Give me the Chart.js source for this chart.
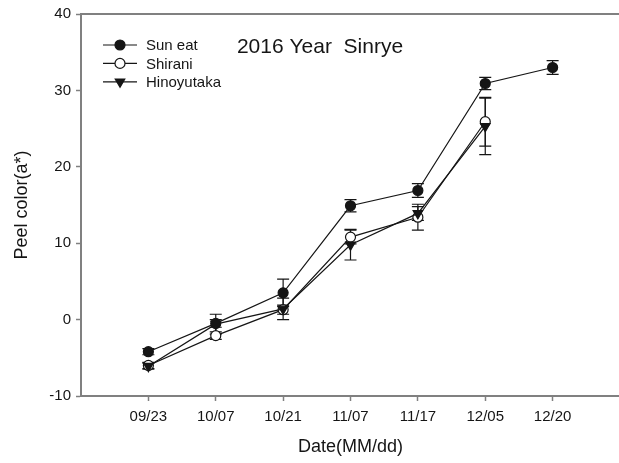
<!DOCTYPE html>
<html>
<head>
<meta charset="utf-8">
<title>Peel color (a*) 2016 Sinrye</title>
<script src="https://cdn.jsdelivr.net/npm/chart.js@4/dist/chart.umd.min.js"></script>
<style>
  html, body { margin: 0; padding: 0; background: #fff; }
  #wrap { width: 619px; height: 463px; overflow: hidden; position: relative; }
  canvas { display: block; }
</style>
</head>
<body>
<div id="wrap"><canvas id="c" width="640" height="463"></canvas></div>
<script>
// Sampling dates (MM/dd)
const dates = ['09/23', '10/07', '10/21', '11/07', '11/17', '12/05', '12/20'];

// Peel colour a* means per cultivar
const seriesNames = ['Sun eat', 'Shirani', 'Hinoyutaka'];
const sunEat     = [-4.2, -0.5, 3.5, 14.9, 16.9, 30.9, 33.0];
const shirani    = [-6.0, -2.1, 1.3, 10.8, 13.4, 25.9, null];
const hinoyutaka = [-6.1, -0.6, 1.4,  9.8, 13.9, 25.3, null];

// Standard errors
const sunEatErr     = [0.4, 0.5, 1.8, 0.8, 0.9, 0.8, 0.9];
const shiraniErr    = [0.4, 0.5, 0.6, 0.9, 1.7, 3.2, null];
const hinoyutakaErr = [0.4, 1.3, 1.4, 2.0, 0.9, 3.7, null];

// Y axis tick values
const yTicks = [-10, 0, 10, 20, 30, 40];

const FONT = '"Liberation Sans", Arial, sans-serif';
const AXIS_GREY = '#808080';
const INK = '#151515';

const toPoints = arr => arr.map((v, i) => ({ x: i, y: v }));

const styles = [
  { pointStyle: 'circle',   fill: INK,    radius: 5,   rotation: 0,   order: 0 },
  { pointStyle: 'circle',   fill: '#fff', radius: 5,   rotation: 0,   order: 2 },
  { pointStyle: 'triangle', fill: INK,    radius: 5.5, rotation: 180, order: 1 }
];
const values = [sunEat, shirani, hinoyutaka];
const errors = [sunEatErr, shiraniErr, hinoyutakaErr];

const datasets = seriesNames.map((name, k) => ({
  label: name,
  data: toPoints(values[k]),
  errors: errors[k],
  order: styles[k].order,
  borderColor: INK,
  borderWidth: 1.2,
  pointStyle: styles[k].pointStyle,
  pointRotation: styles[k].rotation,
  pointRadius: styles[k].radius,
  pointHoverRadius: styles[k].radius,
  pointBackgroundColor: styles[k].fill,
  pointBorderColor: INK,
  pointBorderWidth: 1.2,
  spanGaps: false,
  tension: 0
}));

// Vertical error bars with caps, drawn under the markers
const errorBars = {
  id: 'errorBars',
  beforeDatasetsDraw(chart) {
    const { ctx, scales: { x, y } } = chart;
    ctx.save();
    ctx.strokeStyle = INK;
    ctx.lineWidth = 1.2;
    const cap = 6;
    chart.data.datasets.forEach(ds => {
      ds.data.forEach((p, i) => {
        const e = ds.errors[i];
        if (p.y == null || e == null) return;
        const px = x.getPixelForValue(p.x);
        const top = y.getPixelForValue(p.y + e);
        const bot = y.getPixelForValue(p.y - e);
        ctx.beginPath();
        ctx.moveTo(px, top); ctx.lineTo(px, bot);
        ctx.moveTo(px - cap, top); ctx.lineTo(px + cap, top);
        ctx.moveTo(px - cap, bot); ctx.lineTo(px + cap, bot);
        ctx.stroke();
      });
    });
    ctx.restore();
  }
};

// Frame line on top, chart title and line+symbol legend
const decorations = {
  id: 'decorations',
  afterDraw(chart) {
    const { ctx, chartArea } = chart;
    ctx.save();
    ctx.strokeStyle = AXIS_GREY;
    ctx.lineWidth = 2;
    ctx.beginPath();
    ctx.moveTo(chartArea.left - 1, chartArea.top);
    ctx.lineTo(chartArea.right, chartArea.top);
    ctx.stroke();

    ctx.fillStyle = INK;
    ctx.font = '21px ' + FONT;
    ctx.textAlign = 'center';
    ctx.textBaseline = 'middle';
    ctx.fillText('2016 Year  Sinrye', 320, 47);

    ctx.font = '15px ' + FONT;
    ctx.textAlign = 'left';
    chart.data.datasets.forEach((ds, k) => {
      const yy = 45 + k * 18.4;
      ctx.strokeStyle = INK;
      ctx.lineWidth = 1.2;
      ctx.beginPath();
      ctx.moveTo(103, yy); ctx.lineTo(137, yy);
      ctx.stroke();
      ctx.fillStyle = ds.pointBackgroundColor;
      ctx.strokeStyle = INK;
      Chart.helpers.drawPoint(ctx, {
        pointStyle: ds.pointStyle,
        rotation: ds.pointRotation,
        radius: ds.pointRadius,
        borderWidth: 1.2
      }, 120, yy);
      ctx.fillStyle = INK;
      ctx.fillText(ds.label, 146, yy + 1);
    });
    ctx.restore();
  }
};

new Chart(document.getElementById('c'), {
  type: 'line',
  data: { datasets },
  plugins: [errorBars, decorations],
  options: {
    responsive: false,
    animation: false,
    events: [],
    layout: { padding: { left: 0, top: 13, right: 20, bottom: 0 } },
    plugins: { legend: { display: false }, tooltip: { enabled: false }, title: { display: false } },
    scales: {
      x: {
        type: 'linear',
        min: -1,
        max: dates.length,
        afterBuildTicks: s => { s.ticks = dates.map((_, i) => ({ value: i })); },
        afterFit: s => { s.height = 67; },
        ticks: {
          callback: v => dates[v] ?? '',
          font: { family: FONT, size: 15 },
          color: INK,
          padding: 7,
          maxRotation: 0,
          autoSkip: false
        },
        grid: { drawOnChartArea: false, drawTicks: true, tickLength: 5, tickWidth: 1.5, tickColor: AXIS_GREY },
        border: { display: true, color: AXIS_GREY, width: 2 },
        title: {
          display: true,
          text: 'Date(MM/dd)',
          font: { family: FONT, size: 18 },
          color: INK,
          padding: { top: 0, bottom: 5 }
        }
      },
      y: {
        min: -10,
        max: 40,
        afterBuildTicks: s => { s.ticks = yTicks.map(v => ({ value: v })); },
        afterFit: s => { s.width = 81; },
        ticks: {
          font: { family: FONT, size: 15 },
          color: INK,
          padding: 5
        },
        grid: { drawOnChartArea: false, drawTicks: true, tickLength: 5, tickWidth: 1.5, tickColor: AXIS_GREY },
        border: { display: true, color: AXIS_GREY, width: 2 },
        title: {
          display: true,
          text: 'Peel color(a*)',
          font: { family: FONT, size: 18 },
          color: INK,
          padding: { top: 11, bottom: 0 }
        }
      }
    }
  }
});
</script>
</body>
</html>
